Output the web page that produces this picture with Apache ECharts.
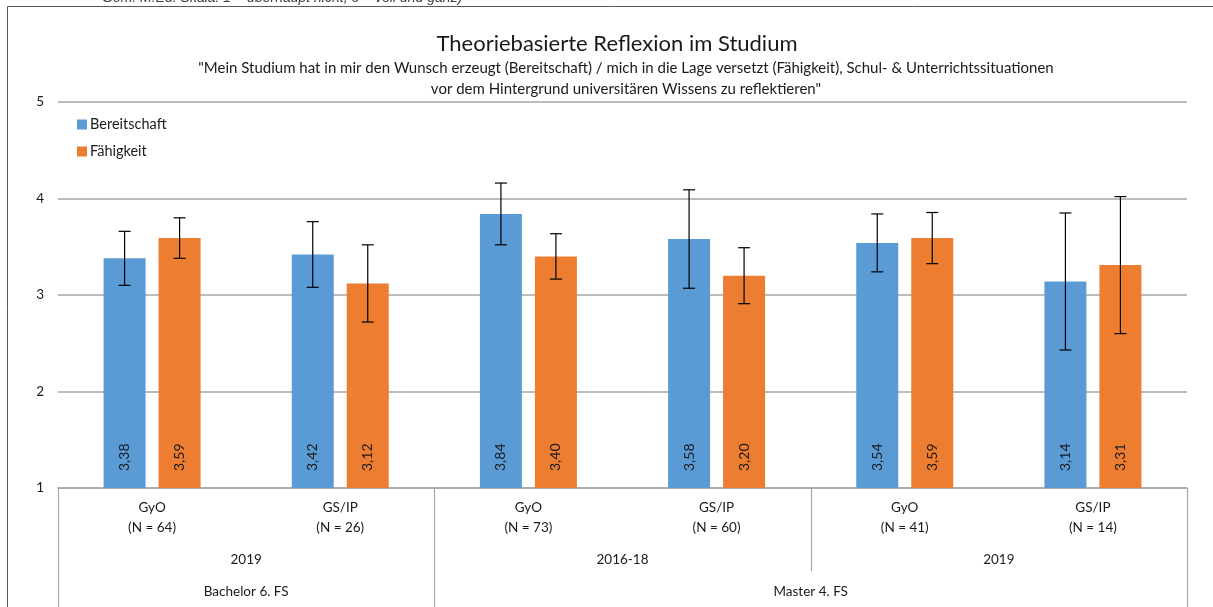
<!DOCTYPE html>
<html>
<head>
<meta charset="utf-8">
<script src="https://cdn.jsdelivr.net/npm/echarts@6/dist/echarts.min.js"></script>
<style>
html,body{margin:0;padding:0;background:#fff;}
#c{width:1213px;height:607px;}
</style>
</head>
<body>
<div id="c"></div>
<script>
// ---- data ----
const programs = ['GyO', 'GS/IP', 'GyO', 'GS/IP', 'GyO', 'GS/IP'];
const sampleSizes = [64, 26, 73, 60, 41, 14];
const yearLabels = ['2019', '2016-18', '2019'];
const yearSpans = [2, 2, 2];
const levelLabels = ['Bachelor 6. FS', 'Master 4. FS'];
const levelSpans = [2, 4];
const bereitschaft = [3.38, 3.42, 3.84, 3.58, 3.54, 3.14];
const faehigkeit = [3.59, 3.12, 3.40, 3.20, 3.59, 3.31];
const bereitschaftErr = [0.28, 0.34, 0.32, 0.51, 0.30, 0.71];
const faehigkeitErr = [0.21, 0.40, 0.235, 0.29, 0.265, 0.71];
const yTicks = [1, 2, 3, 4, 5];
const seriesNames = ['Bereitschaft', 'Fähigkeit'];
const titleText = 'Theoriebasierte Reflexion im Studium';
const subtitleText = '"Mein Studium hat in mir den Wunsch erzeugt (Bereitschaft) / mich in die Lage versetzt (Fähigkeit), Schul- & Unterrichtssituationen\nvor dem Hintergrund universitären Wissens zu reflektieren"';
const noteText = 'Gem. M.Ed. Skala: 1 = überhaupt nicht; 5 = voll und ganz)';

// ---- style ----
const FONT = 'Lato, "Open Sans", sans-serif';
const TXT = '#1a1a1a';
const BLUE = '#5b9bd5';
const ORANGE = '#ed7d31';
const GRID = '#a6a6a6';
const BAR_W = 42;
const BAR_GAP = 13;

const categories = programs.map((p, i) => p + '\n(N = ' + sampleSizes[i] + ')');
const fmt = v => v.toFixed(2).replace('.', ',');

function errSeries(name, values, errs, side) {
  return {
    type: 'custom',
    name: name + ' err',
    z: 10,
    silent: true,
    data: values.map((v, i) => [i, v - errs[i], v + errs[i]]),
    renderItem: function (params, api) {
      const idx = api.value(0);
      const lo = api.coord([idx, api.value(1)]);
      const hi = api.coord([idx, api.value(2)]);
      const off = side * (BAR_W + BAR_GAP) / 2;
      const x = lo[0] + off;
      const cap = 6;
      const st = { stroke: '#000', lineWidth: 1.2 };
      return {
        type: 'group',
        children: [
          { type: 'line', shape: { x1: x, y1: lo[1], x2: x, y2: hi[1] }, style: st },
          { type: 'line', shape: { x1: x - cap, y1: lo[1], x2: x + cap, y2: lo[1] }, style: st },
          { type: 'line', shape: { x1: x - cap, y1: hi[1], x2: x + cap, y2: hi[1] }, style: st }
        ]
      };
    }
  };
}

const labelCfg = {
  show: true,
  position: 'insideBottom',
  rotate: 90,
  align: 'left',
  verticalAlign: 'middle',
  distance: 17,
  fontFamily: FONT,
  fontSize: 14,
  color: TXT,
  formatter: p => fmt(p.value)
};

const option = {
  animation: false,
  textStyle: { fontFamily: FONT },
  title: [
    {
      text: titleText,
      left: 612, top: 28, textAlign: 'center',
      textStyle: { fontFamily: FONT, fontSize: 22, fontWeight: 'normal', color: TXT }
    },
    {
      text: subtitleText,
      left: 621, top: 53, textAlign: 'center',
      textStyle: { fontFamily: FONT, fontSize: 15, fontWeight: 'normal', color: TXT, lineHeight: 21 }
    }
  ],
  legend: {
    orient: 'vertical',
    left: 72, top: 112,
    itemWidth: 10, itemHeight: 10, itemGap: 12,
    icon: 'rect',
    data: seriesNames,
    textStyle: { fontFamily: FONT, fontSize: 14.5, color: TXT, padding: [0, 0, 0, -2] }
  },
  grid: { left: 58, right: 26, top: 102, bottom: 119, containLabel: false },
  xAxis: {
    type: 'category',
    data: categories,
    axisLine: { show: true, lineStyle: { color: GRID, width: 1.5 } },
    axisTick: { show: false },
    axisLabel: { fontFamily: FONT, fontSize: 13.5, color: TXT, lineHeight: 20, margin: 10 }
  },
  yAxis: {
    type: 'value',
    min: yTicks[0], max: yTicks[yTicks.length - 1], interval: 1,
    axisLine: { show: false },
    axisTick: { show: false },
    axisLabel: { fontFamily: FONT, fontSize: 13.5, color: TXT, margin: 14 },
    splitLine: { lineStyle: { color: GRID, width: 1.5 } }
  },
  series: [
    {
      name: seriesNames[0], type: 'bar', data: bereitschaft,
      barWidth: BAR_W, barGap: (BAR_GAP / BAR_W * 100) + '%',
      itemStyle: { color: BLUE }, label: labelCfg
    },
    {
      name: seriesNames[1], type: 'bar', data: faehigkeit,
      barWidth: BAR_W,
      itemStyle: { color: ORANGE }, label: labelCfg
    },
    errSeries(seriesNames[0], bereitschaft, bereitschaftErr, -1),
    errSeries(seriesNames[1], faehigkeit, faehigkeitErr, 1)
  ]
};

const chart = echarts.init(document.getElementById('c'));
chart.setOption(option);

// multi-level category decorations, positioned through the axis scale
(function () {
  const px = i => chart.convertToPixel({ xAxisIndex: 0 }, i);
  const band = px(1) - px(0);
  const edge = i => px(0) + (i - 0.5) * band;
  const yBase = chart.convertToPixel({ yAxisIndex: 0 }, yTicks[0]);
  const yYearRow = yBase + 72;
  const yYearBottom = yBase + 83;
  const yLevelRow = yBase + 104;
  const els = [];
  const lineSt = { stroke: GRID, lineWidth: 1.2 };
  const txtStyle = (t) => ({ text: t, fontFamily: FONT, fontSize: 13.5, fill: TXT, align: 'center', verticalAlign: 'middle' });

  // outer chart border
  els.push({ type: 'rect', shape: { x: 7.5, y: 6.5, width: 1400, height: 800 }, style: { fill: null, stroke: '#595959', lineWidth: 1 }, silent: true });
  // clipped note above the chart frame
  els.push({ type: 'text', x: 102, y: 5, style: { text: noteText, fontFamily: '"Liberation Sans", Arial, sans-serif', fontStyle: 'italic', fontSize: 14, fill: '#404040', align: 'left', verticalAlign: 'bottom' } });

  // level boundaries (full height)
  let start = 0;
  const levelEdges = [0];
  levelSpans.forEach((s, k) => {
    const mid = (edge(start) + edge(start + s)) / 2;
    els.push({ type: 'text', x: mid, y: yLevelRow, style: txtStyle(levelLabels[k]) });
    start += s;
    levelEdges.push(start);
  });
  levelEdges.forEach(e => {
    const x = Math.round(edge(e)) + 0.5;
    els.push({ type: 'line', shape: { x1: x, y1: yBase, x2: x, y2: 700 }, style: lineSt });
  });

  // year boundaries (down to year row)
  start = 0;
  const yearEdges = [0];
  yearSpans.forEach((s, k) => {
    const mid = (edge(start) + edge(start + s)) / 2;
    els.push({ type: 'text', x: mid, y: yYearRow, style: txtStyle(yearLabels[k]) });
    start += s;
    yearEdges.push(start);
  });
  yearEdges.filter(e => levelEdges.indexOf(e) < 0).forEach(e => {
    const x = Math.round(edge(e)) + 0.5;
    els.push({ type: 'line', shape: { x1: x, y1: yBase, x2: x, y2: yYearBottom }, style: lineSt });
  });

  chart.setOption({ graphic: els });
})();
</script>
</body>
</html>
